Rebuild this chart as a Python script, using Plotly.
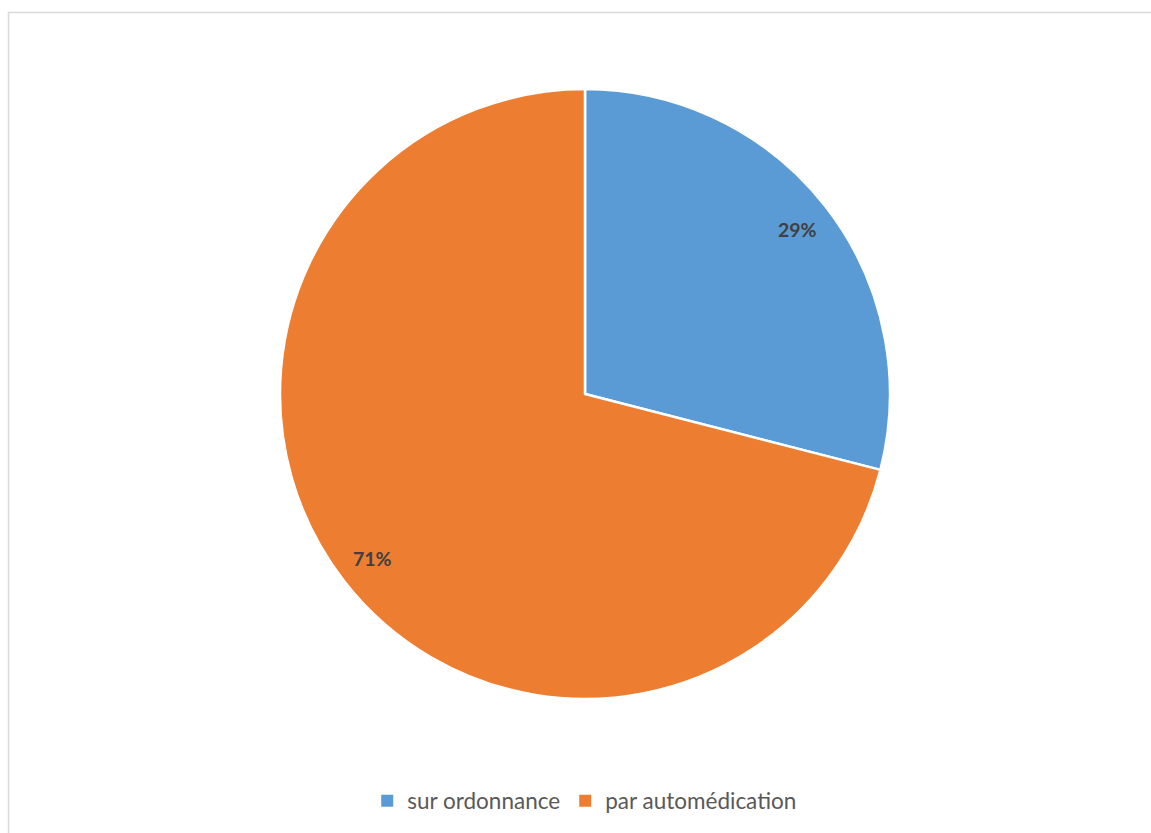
import math
import plotly.graph_objects as go

# Mode d'obtention des médicaments
categories = ["sur ordonnance", "par automédication"]
shares = [29, 71]
colors = ["#5B9BD5", "#ED7D31"]

W, H = 1151, 833
cx, cy, r = 585, 394, 305  # pie centre and radius in pixels

fig = go.Figure(
    go.Pie(
        labels=categories,
        values=shares,
        sort=False,
        direction="clockwise",
        rotation=0,
        marker=dict(colors=colors, line=dict(color="white", width=2.5)),
        textinfo="none",
        hoverinfo="label+percent",
        showlegend=False,
        domain=dict(x=[(cx - r) / W, (cx + r) / W], y=[1 - (cy + r) / H, 1 - (cy - r) / H]),
    )
)

# Legend entries with solid square swatches
for name, col in zip(categories, colors):
    fig.add_trace(
        go.Scatter(
            x=[None], y=[None], mode="markers", name=name,
            marker=dict(symbol="square", size=12, color=col),
            hoverinfo="skip",
        )
    )

# Percentage labels placed along each slice's bisector
total = sum(shares)
start = 0.0
for v in shares:
    span = 360.0 * v / total
    mid = math.radians(start + span / 2)
    start += span
    px = cx + 0.88 * r * math.sin(mid)
    py = cy - 0.88 * r * math.cos(mid)
    fig.add_annotation(
        x=px / W, y=1 - py / H, xref="paper", yref="paper",
        xanchor="center", yanchor="middle",
        text=f"<b>{round(100 * v / total)}%</b>", showarrow=False,
        font=dict(family="Lato", size=19.5, color="#404040"),
    )

# Chart-area frame
fig.add_shape(
    type="rect", xref="paper", yref="paper",
    x0=8.5 / W, x1=1.02, y0=-0.02, y1=1 - 12.5 / H,
    line=dict(color="#D9D9D9", width=1.5), fillcolor="rgba(0,0,0,0)",
)

fig.update_layout(
    width=W, height=H,
    margin=dict(l=0, r=0, t=0, b=0),
    paper_bgcolor="white", plot_bgcolor="white",
    xaxis=dict(visible=False), yaxis=dict(visible=False),
    showlegend=True,
    legend=dict(
        orientation="h", x=0.508, xanchor="center", y=1 - 801 / H, yanchor="middle",
        font=dict(family="Lato", size=22.5, color="#595959"),
        traceorder="normal",
    ),
)

fig.write_html("out.html")
